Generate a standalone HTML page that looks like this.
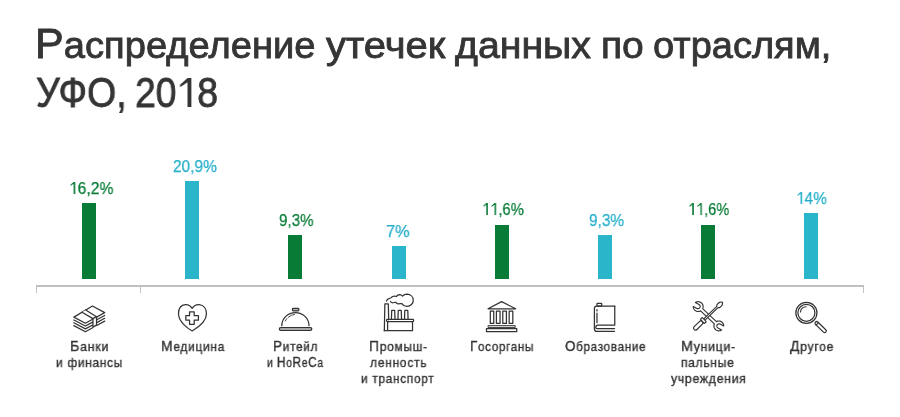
<!DOCTYPE html>
<html><head><meta charset="utf-8">
<style>
html,body{margin:0;padding:0;background:#fff;}
body{width:900px;height:417px;position:relative;overflow:hidden;font-family:"Liberation Sans",sans-serif;}
.x{position:absolute;white-space:nowrap;transform-origin:0 0;will-change:transform;}
.x[id^=l]{letter-spacing:0.8px;}
.bar{position:absolute;width:14px;}
.g{background:#087c36;}
.c{background:#2ab5ca;}
.axis{position:absolute;left:35.9px;top:285px;width:828.1px;height:2px;background:#c0c0c0;}
.tick{position:absolute;top:285px;width:1.4px;height:8px;background:#c0c0c0;}
svg.i{position:absolute;overflow:visible;}
.cap{font-size:1.16em;line-height:0;}
.one{display:inline-block;width:0.556em;height:0.688em;background:currentColor;clip-path:polygon(52.5% 0,71.4% 0,71.4% 100%,52.5% 100%,52.5% 14%,17% 32%,17% 23%);}
</style></head><body>
<div class="x" id="w0" style="left:35.40px;top:23.31px;font-size:37.5px;line-height:45px;color:#353535;-webkit-text-stroke:0.85px #353535;transform:scaleX(1.0169)"><span style="font-size:1.13em;line-height:0">Р</span>аспределение</div>
<div class="x" id="w1" style="left:325.61px;top:23.31px;font-size:37.5px;line-height:45px;color:#353535;-webkit-text-stroke:0.85px #353535;transform:scaleX(1.0664)">утечек</div>
<div class="x" id="w2" style="left:454.61px;top:23.31px;font-size:37.5px;line-height:45px;color:#353535;-webkit-text-stroke:0.85px #353535;transform:scaleX(1.0465)">данных</div>
<div class="x" id="w3" style="left:600.53px;top:23.31px;font-size:37.5px;line-height:45px;color:#353535;-webkit-text-stroke:0.85px #353535;transform:scaleX(1.0391)">по</div>
<div class="x" id="w4" style="left:652.84px;top:23.31px;font-size:37.5px;line-height:45px;color:#353535;-webkit-text-stroke:0.85px #353535;transform:scaleX(1.0131)">отраслям,</div>
<div class="x" id="v0" style="left:36.40px;top:67.65px;font-size:42px;line-height:50px;color:#353535;-webkit-text-stroke:0.85px #353535;transform:scaleX(0.8921)">УФО,</div>
<div class="x" id="v1" style="left:135.43px;top:67.65px;font-size:42px;line-height:50px;color:#353535;-webkit-text-stroke:0.85px #353535;transform:scaleX(0.8889)">20<span class="one"></span>8</div>
<div class="x" id="p0" style="left:69.15px;top:177.71px;font-size:17.3px;line-height:21px;color:#087c36;-webkit-text-stroke:0.25px #087c36;transform:scaleX(0.9046)"><span class="one"></span>6,2%</div>
<div class="x" id="p1" style="left:173.36px;top:155.61px;font-size:17.3px;line-height:21px;color:#24aec9;-webkit-text-stroke:0.25px #24aec9;transform:scaleX(0.8937)">20,9%</div>
<div class="x" id="p2" style="left:278.61px;top:210.11px;font-size:17.3px;line-height:21px;color:#087c36;-webkit-text-stroke:0.25px #087c36;transform:scaleX(0.8790)">9,3%</div>
<div class="x" id="p3" style="left:386.17px;top:220.71px;font-size:17.3px;line-height:21px;color:#24aec9;-webkit-text-stroke:0.25px #24aec9;transform:scaleX(0.9490)">7%</div>
<div class="x" id="p4" style="left:482.38px;top:199.11px;font-size:17.3px;line-height:21px;color:#087c36;-webkit-text-stroke:0.25px #087c36;transform:scaleX(0.8510)"><span class="one"></span><span class="one"></span>,6%</div>
<div class="x" id="p5" style="left:588.64px;top:209.91px;font-size:17.3px;line-height:21px;color:#24aec9;-webkit-text-stroke:0.25px #24aec9;transform:scaleX(0.8896)">9,3%</div>
<div class="x" id="p6" style="left:688.39px;top:199.11px;font-size:17.3px;line-height:21px;color:#087c36;-webkit-text-stroke:0.25px #087c36;transform:scaleX(0.8404)"><span class="one"></span><span class="one"></span>,6%</div>
<div class="x" id="p7" style="left:796.05px;top:187.81px;font-size:17.3px;line-height:21px;color:#24aec9;-webkit-text-stroke:0.25px #24aec9;transform:scaleX(0.8937)"><span class="one"></span>4%</div>
<div class="x" id="l0" style="left:69.85px;top:338.90px;font-size:13px;line-height:16px;color:#333333;-webkit-text-stroke:0.38px #333333;transform:scaleX(0.9469)"><span class="cap">Б</span>анки</div>
<div class="x" id="l1" style="left:55.96px;top:354.80px;font-size:13px;line-height:16px;color:#333333;-webkit-text-stroke:0.38px #333333;transform:scaleX(0.9120)">и финансы</div>
<div class="x" id="l2" style="left:160.98px;top:338.90px;font-size:13px;line-height:16px;color:#333333;-webkit-text-stroke:0.38px #333333;transform:scaleX(0.9188)"><span class="cap">М</span>едицина</div>
<div class="x" id="l3" style="left:273.00px;top:338.90px;font-size:13px;line-height:16px;color:#333333;-webkit-text-stroke:0.38px #333333;transform:scaleX(0.9034)"><span class="cap">Р</span>итейл</div>
<div class="x" id="l4" style="left:267.07px;top:354.80px;font-size:13px;line-height:16px;color:#333333;-webkit-text-stroke:0.38px #333333;transform:scaleX(0.7906)">и <span class="cap">H</span>o<span class="cap">R</span>e<span class="cap">C</span>a</div>
<div class="x" id="l5" style="left:368.63px;top:338.90px;font-size:13px;line-height:16px;color:#333333;-webkit-text-stroke:0.38px #333333;transform:scaleX(0.9201)"><span class="cap">П</span>ромыш-</div>
<div class="x" id="l6" style="left:370.06px;top:354.80px;font-size:13px;line-height:16px;color:#333333;-webkit-text-stroke:0.38px #333333;transform:scaleX(0.9225)">ленность</div>
<div class="x" id="l7" style="left:361.41px;top:370.70px;font-size:13px;line-height:16px;color:#333333;-webkit-text-stroke:0.38px #333333;transform:scaleX(0.9066)">и транспорт</div>
<div class="x" id="l8" style="left:469.81px;top:338.90px;font-size:13px;line-height:16px;color:#333333;-webkit-text-stroke:0.38px #333333;transform:scaleX(0.8912)"><span class="cap">Г</span>осорганы</div>
<div class="x" id="l9" style="left:565.00px;top:338.90px;font-size:13px;line-height:16px;color:#333333;-webkit-text-stroke:0.38px #333333;transform:scaleX(0.8922)"><span class="cap">О</span>бразование</div>
<div class="x" id="l10" style="left:680.95px;top:338.90px;font-size:13px;line-height:16px;color:#333333;-webkit-text-stroke:0.38px #333333;transform:scaleX(0.9444)"><span class="cap">М</span>уници-</div>
<div class="x" id="l11" style="left:680.97px;top:354.80px;font-size:13px;line-height:16px;color:#333333;-webkit-text-stroke:0.38px #333333;transform:scaleX(0.9228)">пальные</div>
<div class="x" id="l12" style="left:671.00px;top:370.70px;font-size:13px;line-height:16px;color:#333333;-webkit-text-stroke:0.38px #333333;transform:scaleX(0.9383)">учреждения</div>
<div class="x" id="l13" style="left:789.94px;top:338.90px;font-size:13px;line-height:16px;color:#333333;-webkit-text-stroke:0.38px #333333;transform:scaleX(0.9265)"><span class="cap">Д</span>ругое</div>
<div class="bar g" style="left:82.2px;top:203.0px;height:76.0px"></div>
<div class="bar c" style="left:185.3px;top:181.0px;height:98.0px"></div>
<div class="bar g" style="left:288.4px;top:235.4px;height:43.6px"></div>
<div class="bar c" style="left:391.5px;top:246.2px;height:32.8px"></div>
<div class="bar g" style="left:494.6px;top:224.6px;height:54.4px"></div>
<div class="bar c" style="left:597.7px;top:235.4px;height:43.6px"></div>
<div class="bar g" style="left:700.8px;top:224.6px;height:54.4px"></div>
<div class="bar c" style="left:803.9px;top:213.3px;height:65.7px"></div>
<div class="axis"></div>
<div class="tick" style="left:35.9px"></div>
<div class="tick" style="left:139.75px"></div>
<div class="tick" style="left:862.65px"></div>
<svg class="i" style="left:0;top:0" width="900" height="417" viewBox="0 0 900 417" fill="none" stroke="#333" stroke-width="1.25" stroke-linejoin="round" stroke-linecap="round"><g transform="translate(72 303) scale(0.07431)" stroke-width="16.82"><path d="M25,304 L180,386 L278,334"/><path d="M333,302 L440,244"/><path d="M25,266 L180,348 L278,296"/><path d="M333,264 L440,206"/><path d="M25,228 L180,310 L278,258"/><path d="M333,226 L440,168"/><path d="M25,190 L275,40 L440,130 L180,272 Z" fill="#fff"/><path d="M135,124 L282,210 L282,325 L330,298 L330,184 L185,94" fill="#fff"/><path d="M282,210 L330,184"/></g><g transform="translate(172 300) scale(0.08639)" stroke-width="14.47"><path d="M233,96 C210,62 185,52 155,54 C105,58 75,100 75,160 C75,250 180,328 233,358 C286,328 399,250 399,160 C399,100 365,58 315,54 C285,52 256,62 233,96 Z"/><path d="M203,137 H257 V181 H306 V234 H257 V282 H203 V234 H160 V181 H203 Z" stroke-linejoin="round"/></g><g transform="translate(274 300) scale(0.08628)" stroke-width="14.49"><rect x="214" y="98" width="74" height="28" rx="10" fill="#b4b4b4"/><path d="M90,298 A158,153 0 0 1 406,298"/><path d="M130,245 Q138,228 150,215 M165,200 Q200,172 240,165" stroke-width="10"/><rect x="62" y="320" width="376" height="32" rx="16" fill="#cfcfcf"/></g><g transform="translate(380 290) scale(0.10560)" stroke-width="11.84"><path d="M41,385 L46,132 L79,132 L82,282"/><path d="M108,276 L111,192 L139,192 L142,276"/><path d="M170,276 L173,192 L201,192 L204,276"/><path d="M232,276 L235,192 L263,192 L266,276"/><rect x="62" y="278" width="256" height="22" rx="8"/><path d="M72,300 V385 H308 V300 M40,385 H72"/></g><g transform="translate(384 291) scale(0.04077)" stroke-width="30.66"><path d="M60,245 C70,210 95,185 140,180 C165,180 170,175 180,160 C205,130 250,120 300,135 C320,110 350,90 385,88 C415,88 440,105 455,125 C480,95 520,78 565,78 C650,80 715,140 718,225 C720,310 650,375 565,378 C510,380 470,355 445,315 C420,300 390,318 355,315 C320,312 305,290 290,278 C260,272 240,292 200,288 C180,285 165,270 160,255"/></g><g transform="translate(480 295) scale(0.09823)" stroke-width="12.72"><path d="M82,140 L220,67 L363,140 Z" stroke-linejoin="round"/><rect x="105" y="165" width="35" height="125"/><rect x="167" y="165" width="37" height="125"/><rect x="232" y="165" width="37" height="125"/><rect x="297" y="165" width="37" height="125"/><rect x="86" y="312" width="273" height="18" stroke-width="10"/><rect x="66" y="342" width="308" height="32"/></g><g transform="translate(584 295) scale(0.09828)" stroke-width="12.72"><path d="M313,114 L130,114 Q106,114 106,138 L106,345 Q106,370 131,370 L311,370"/><path d="M311,342 L132,342 Q120,342 120,330 Q120,306 142,306 L313,306 L313,114"/><rect x="132" y="86" width="48" height="28" rx="4"/><path d="M132,150 V162 M132,185 V282"/></g><path d="M700.58,310.88 L700.19,311.08 L699.80,311.23 L699.38,311.35 L698.96,311.44 L698.54,311.49 L698.11,311.50 L697.68,311.47 L697.25,311.41 L696.84,311.31 L696.43,311.17 L696.04,311.00 L695.66,310.79 L695.30,310.55 L694.97,310.28 L694.66,309.99 L694.38,309.66 L694.12,309.32 L693.90,308.95 L693.71,308.57 L693.56,308.17 L693.44,307.75 L693.35,307.33 L693.31,306.90 L693.30,306.48 L696.90,308.40 L697.16,308.52 L697.44,308.60 L697.72,308.65 L698.01,308.66 L698.29,308.63 L698.57,308.56 L698.84,308.46 L699.10,308.33 L699.33,308.16 L699.54,307.96 L699.72,307.74 L699.88,307.50 L699.99,307.23 L700.08,306.96 L700.12,306.67 L700.13,306.39 L700.11,306.10 L700.04,305.82 L699.94,305.55 L699.80,305.30 L699.64,305.06 L699.44,304.85 L699.22,304.67 L698.97,304.52 L695.38,302.60 L695.83,302.31 L696.31,302.08 L696.82,301.90 L697.34,301.78 L697.87,301.71 L698.41,301.70 L698.94,301.76 L699.47,301.87 L699.98,302.03 L700.46,302.25 L700.93,302.53 L701.35,302.85 L701.74,303.22 L702.09,303.62 L702.39,304.07 L702.65,304.54 L702.84,305.04 L702.99,305.55 L703.07,306.08 L703.10,306.62 L703.07,307.15 L702.98,307.68 L702.83,308.20 L702.63,308.69 L716.42,321.62 L716.81,321.42 L717.20,321.27 L717.62,321.15 L718.04,321.06 L718.46,321.01 L718.89,321.00 L719.32,321.03 L719.75,321.09 L720.16,321.19 L720.57,321.33 L720.96,321.50 L721.34,321.71 L721.70,321.95 L722.03,322.22 L722.34,322.51 L722.62,322.84 L722.88,323.18 L723.10,323.55 L723.29,323.93 L723.44,324.33 L723.56,324.75 L723.65,325.17 L723.69,325.60 L723.70,326.02 L720.10,324.10 L719.84,323.98 L719.56,323.90 L719.28,323.85 L718.99,323.84 L718.71,323.87 L718.43,323.94 L718.16,324.04 L717.90,324.17 L717.67,324.34 L717.46,324.54 L717.28,324.76 L717.12,325.00 L717.01,325.27 L716.92,325.54 L716.88,325.83 L716.87,326.11 L716.89,326.40 L716.96,326.68 L717.06,326.95 L717.20,327.20 L717.36,327.44 L717.56,327.65 L717.78,327.83 L718.03,327.98 L721.62,329.90 L721.17,330.19 L720.69,330.42 L720.18,330.60 L719.66,330.72 L719.13,330.79 L718.59,330.80 L718.06,330.74 L717.53,330.63 L717.02,330.47 L716.54,330.25 L716.07,329.97 L715.65,329.65 L715.26,329.28 L714.91,328.88 L714.61,328.43 L714.35,327.96 L714.16,327.46 L714.01,326.95 L713.93,326.42 L713.90,325.88 L713.93,325.35 L714.02,324.82 L714.17,324.30 L714.37,323.81 Z" fill="#fff" stroke-width="1.1875"/><g transform="translate(694.10 329.40) rotate(-43.86)" fill="#fff" stroke-width="1.19"><path d="M13.50,-0.9 L32.30,-0.9 L33.60,-2.0 L36.80,-2.0 L38.80,-0.7 Q39.60,0 38.80,0.7 L36.80,2.0 L33.60,2.0 L32.30,0.9 L13.50,0.9 Z"/><rect x="0" y="-2.0" width="11.6" height="4.0" rx="2"/><rect x="11.4" y="-2.9" width="2.8" height="5.8" rx="0.8"/></g><circle cx="806.4" cy="312.8" r="10.55"/><circle cx="806.4" cy="312.8" r="8.5"/><path d="M800.44,312.07 A6.0,6.0 0 0 1 806.19,306.80" stroke-width="1.1"/><g transform="translate(815.44 322.07) rotate(43.97)"><rect x="0" y="-1.65" width="14.41" height="3.3" rx="1.65"/><path d="M2.6,-1.65 V1.65"/></g></svg>
</body></html>
